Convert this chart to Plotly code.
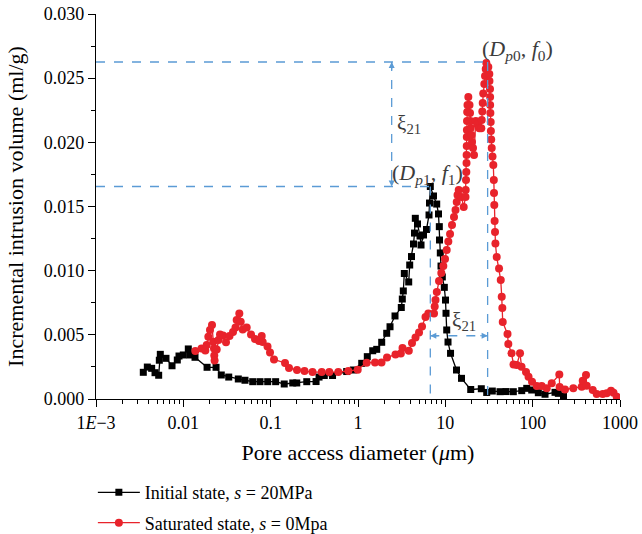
import math
import plotly.graph_objects as go

# ---------------- data ----------------
initial_d = [0.00348, 0.00387, 0.00434, 0.00474, 0.00522, 0.00531, 0.00545, 0.00633, 0.00742, 0.00853,
             0.00892, 0.00999, 0.0114, 0.0119, 0.0136, 0.0187, 0.0237, 0.0272, 0.0331, 0.0426,
             0.0508, 0.0623, 0.0755, 0.0925, 0.114, 0.143, 0.179, 0.199, 0.259, 0.331,
             0.358, 0.411, 0.511, 0.742, 0.884, 1.103, 1.278, 1.474, 1.638, 1.868,
             2.132, 2.326, 2.653, 3.132, 3.216, 3.302, 3.391, 3.808, 3.909, 4.100,
             4.322, 4.438, 4.532, 4.802, 5.129, 5.267, 5.625, 6.088, 6.505, 6.590,
             6.730, 7.322, 7.967, 8.353, 8.533, 8.578, 8.760, 8.923, 9.234, 9.734,
             10.05, 10.18, 10.37, 10.73, 11.47, 13.43, 15.32, 19.53, 25.82, 29.77,
             34.51, 42.28, 49.55, 60.04, 74.94, 85.5, 97.5, 116.1, 138.5, 180.3,
             196.7, 225.5]
initial_v = [0.00208, 0.00249, 0.00239, 0.00205, 0.00185, 0.00302, 0.00348, 0.00317, 0.00259, 0.00304,
             0.00335, 0.00343, 0.00390, 0.00343, 0.00325, 0.00247, 0.00247, 0.00187, 0.00171, 0.00156,
             0.00146, 0.00135, 0.00135, 0.00135, 0.00135, 0.00117, 0.00125, 0.00125, 0.00135, 0.00136,
             0.00171, 0.00183, 0.00183, 0.00214, 0.00226, 0.00278, 0.00330, 0.00376, 0.00387, 0.00442,
             0.00512, 0.00563, 0.00647, 0.00713, 0.00779, 0.00842, 0.00978, 0.00912, 0.01044, 0.01110,
             0.01208, 0.01293, 0.01408, 0.01364, 0.01270, 0.01200, 0.01278, 0.01321, 0.01434, 0.01527,
             0.01656, 0.01582, 0.01519, 0.01442, 0.01343, 0.01239, 0.01138, 0.01036, 0.00951, 0.00870,
             0.00771, 0.00668, 0.00538, 0.00444, 0.00356, 0.00226, 0.00161, 0.00074, 0.00080, 0.00051,
             0.00062, 0.00057, 0.00058, 0.00057, 0.00065, 0.00083, 0.00070, 0.00049, 0.00037, 0.00052,
             0.00044, 0.00023]

saturated_d = [0.01372, 0.01615, 0.01785, 0.01852, 0.01932, 0.02020, 0.02129, 0.02203, 0.02244, 0.02262,
               0.02280, 0.02410, 0.02528, 0.02630, 0.02846, 0.03080, 0.03379, 0.03706, 0.03957, 0.04084,
               0.04375, 0.04539, 0.04785, 0.05316, 0.05956, 0.06616, 0.07354, 0.07896, 0.08106, 0.0920,
               0.0983, 0.1092, 0.1460, 0.1622, 0.2002, 0.2440, 0.3014, 0.3842, 0.4694, 0.5950,
               0.7745, 0.9924, 1.258, 1.566, 1.858, 2.149, 2.688, 3.092, 3.234, 3.818,
               4.154, 4.556, 4.995, 5.408, 5.929, 6.386, 7.419, 7.556, 7.717, 7.989,
               8.466, 8.995, 9.482, 9.916, 10.37, 10.82, 11.32, 11.92, 12.57, 13.08,
               13.50, 13.79, 14.23, 15.32, 16.23, 17.02, 17.11, 17.25, 17.39, 17.48,
               17.53, 17.58, 17.62, 17.66, 17.72, 17.80, 17.94, 18.34, 18.92, 19.17,
               19.31, 19.53, 19.95, 20.21, 20.75, 21.30, 22.28, 23.24, 24.50, 25.82,
               26.10, 26.51, 26.79, 27.15, 27.95, 28.47, 29.00, 29.47, 31.06, 31.89,
               32.0, 32.48, 32.56, 32.6, 32.8, 33.08, 33.25, 33.52, 33.97, 34.69,
               35.43, 35.90, 36.09, 36.37, 36.67, 37.06, 37.45, 38.76, 41.19, 43.09,
               44.23, 44.94, 45.42, 51.52, 52.62, 57.27, 60.36, 65.70, 71.65, 74.55,
               83.91, 89.67, 98.31, 111.3, 126.9, 144.9, 165.3, 201.9, 203.4, 234.6,
               292.1, 364.5, 374.2, 408.1, 415.7, 487.2, 541.2, 634.1, 704.6, 789.0,
               843.0, 917.2]
saturated_v = [0.00374, 0.00393, 0.00378, 0.00421, 0.00485, 0.00538, 0.00577, 0.00446, 0.00393, 0.00339,
               0.00300, 0.00386, 0.00460, 0.00503, 0.00495, 0.00442, 0.00491, 0.00522, 0.00557, 0.00616,
               0.00666, 0.00602, 0.00542, 0.00557, 0.00503, 0.00468, 0.00452, 0.00491, 0.00444, 0.00409,
               0.00362, 0.00308, 0.00281, 0.00242, 0.00226, 0.00218, 0.00210, 0.00210, 0.00210, 0.00210,
               0.00218, 0.00228, 0.00283, 0.00284, 0.00284, 0.00323, 0.00347, 0.00355, 0.00397, 0.00376,
               0.00436, 0.00479, 0.00518, 0.00565, 0.00639, 0.00666, 0.00666, 0.00721, 0.00771, 0.00834,
               0.00919, 0.00982, 0.01036, 0.01091, 0.01161, 0.01227, 0.01286, 0.01356, 0.01418, 0.01473,
               0.01535, 0.01590, 0.01629, 0.01574, 0.01496, 0.01574, 0.01629, 0.01706, 0.01769, 0.01839,
               0.01901, 0.01971, 0.02042, 0.02096, 0.02166, 0.02236, 0.02291, 0.02353, 0.02291, 0.02229,
               0.02166, 0.02112, 0.02057, 0.02003, 0.01956, 0.01901, 0.02166, 0.02139, 0.02109, 0.02109,
               0.02174, 0.02240, 0.02306, 0.02380, 0.02454, 0.02517, 0.02571, 0.02618, 0.02587, 0.02532,
               0.02478, 0.02416, 0.02353, 0.02291, 0.02229, 0.02158, 0.02088, 0.02022, 0.01956, 0.01890,
               0.01823, 0.01706, 0.01605, 0.01512, 0.01387, 0.01301, 0.01212, 0.01106, 0.01017, 0.00927,
               0.00797, 0.00709, 0.00600, 0.00506, 0.00429, 0.00356, 0.00269, 0.00265, 0.00356, 0.00252,
               0.00210, 0.00174, 0.00135, 0.00101, 0.00101, 0.00083, 0.00122, 0.00191, 0.00094, 0.00074,
               0.00083, 0.00096, 0.00143, 0.00187, 0.00104, 0.00070, 0.00039, 0.00039, 0.00044, 0.00065,
               0.00049, 0.00018]

x_tick_vals = [0.001, 0.01, 0.1, 1, 10, 100, 1000]
x_tick_text = ["1<i>E</i>\u22123", "0.01", "0.1", "1", "10", "100", "1000"]
y_tick_vals = [0.000, 0.005, 0.010, 0.015, 0.020, 0.025, 0.030]

# characteristic points
d_p0, f_0 = 30.5, 0.02626
d_p1, f_1 = 6.73, 0.01656
xi_arrow_d = 2.43
xi_arrow_v = 0.00493
xi_label_d = 16.5

FONT = "Liberation Serif"
DASH_COLOR = "#5b9bd5"
TXT_COLOR = "#3c3c3c"
RED = "#e8232b"

fig = go.Figure()

fig.add_trace(go.Scatter(
    x=initial_d, y=initial_v, mode="lines+markers",
    name="Initial state, <i>s</i> = 20MPa",
    line=dict(color="black", width=1.3),
    marker=dict(symbol="square", size=7, color="black"),
    legendgroup="a",
))
fig.add_trace(go.Scatter(
    x=saturated_d, y=saturated_v, mode="lines+markers",
    name="Saturated state, <i>s</i> = 0Mpa",
    line=dict(color=RED, width=1.3),
    marker=dict(symbol="circle", size=8, color=RED),
    legendgroup="b",
))

dash_line = dict(color=DASH_COLOR, width=1.3, dash="dash")
x_min = x_tick_vals[0]
for xs, ys in [
    ([x_min, d_p0], [f_0, f_0]),
    ([x_min, d_p1], [f_1, f_1]),
    ([d_p0, d_p0], [f_0, 0]),
    ([d_p1, d_p1], [f_1, 0]),
    ([xi_arrow_d, xi_arrow_d], [f_0, f_1]),
    ([d_p1, d_p0], [xi_arrow_v, xi_arrow_v]),
]:
    fig.add_trace(go.Scatter(x=xs, y=ys, mode="lines", line=dash_line,
                             showlegend=False, hoverinfo="skip"))

# arrow heads
lx = math.log10
heads = [
    (lx(xi_arrow_d), f_0, 0, 9),
    (lx(xi_arrow_d), f_1, 0, -9),
    (lx(d_p1), xi_arrow_v, 9, 0),
    (lx(d_p0), xi_arrow_v, -9, 0),
]
for hx, hy, ax, ay in heads:
    fig.add_annotation(x=hx, y=hy, xref="x", yref="y", ax=ax, ay=ay, text="",
                       showarrow=True, arrowhead=2, arrowsize=1, arrowwidth=1.2,
                       arrowcolor=DASH_COLOR)

labels = [
    (lx(d_p0), f_0, "(<i>D</i><sub><i>p</i>0</sub>, <i>f</i><sub>0</sub>)", -8, -4, "left", "bottom", 22),
    (lx(xi_arrow_d), f_1, "(<i>D</i><sub><i>p</i>1</sub>, <i>f</i><sub>1</sub>)", -2, -4, "left", "bottom", 22),
    (lx(xi_arrow_d), (f_0 + f_1) / 2, "\u03be<sub>21</sub>", 3, 0, "left", "middle", 21),
    (lx(xi_label_d), xi_arrow_v, "\u03be<sub>21</sub>", 0, 0, "center", "bottom", 21),
]
for lxv, ly, txt, xs, ys, xa, ya, fs in labels:
    fig.add_annotation(x=lxv, y=ly, xref="x", yref="y", text=txt, showarrow=False,
                       xanchor=xa, yanchor=ya, xshift=xs, yshift=ys,
                       font=dict(family=FONT, size=fs, color=TXT_COLOR))

fig.update_layout(
    width=642, height=534,
    margin=dict(l=96, r=22, t=14, b=135, autoexpand=False),
    paper_bgcolor="white", plot_bgcolor="white",
    font=dict(family=FONT, size=18, color="black"),
    showlegend=True,
    legend=dict(x=-0.006, y=-0.195, xanchor="left", yanchor="top",
                bgcolor="rgba(0,0,0,0)", traceorder="grouped", tracegroupgap=4,
                font=dict(family=FONT, size=18, color="black"), itemwidth=42),
)
fig.update_xaxes(
    type="log", range=[-3, 3],
    tickvals=x_tick_vals, ticktext=x_tick_text,
    ticks="outside", ticklen=7, tickwidth=1.2, tickcolor="black",
    showline=True, linecolor="black", linewidth=1.3,
    showgrid=False, zeroline=False,
    minor=dict(ticks="outside", ticklen=4, tickwidth=1.1, tickcolor="black", dtick="D1", showgrid=False),
    title=dict(text="Pore access diameter (<i>\u03bc</i>m)", standoff=12),
    tickfont=dict(size=18),
)
fig.update_yaxes(
    range=[0, 0.030], tickvals=y_tick_vals, tickformat=".3f",
    ticks="outside", ticklen=7, tickwidth=1.2, tickcolor="black",
    showline=True, linecolor="black", linewidth=1.3,
    showgrid=False, zeroline=False,
    minor=dict(ticks="outside", ticklen=4, tickwidth=1.1, tickcolor="black", dtick=0.0025, showgrid=False),
    title=dict(text="Incremental intrusion volume (ml/g)", standoff=14),
    tickfont=dict(size=18),
)

fig.write_html("out.html", config={"displayModeBar": False},
               post_script="document.body.style.margin='0';")
